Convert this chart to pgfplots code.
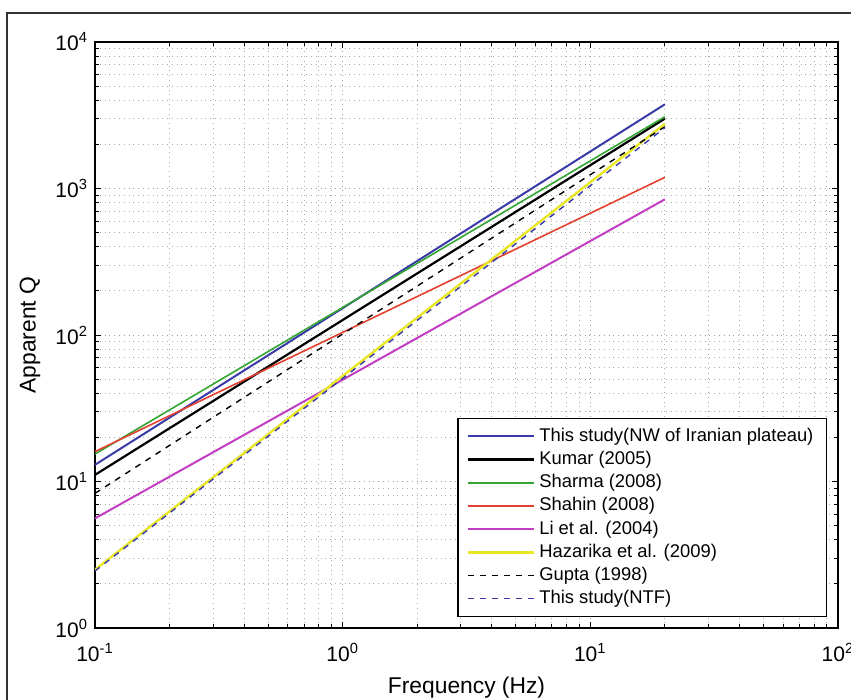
\documentclass[border=0pt]{standalone}
\usepackage{pgfplots}
\pgfplotsset{compat=1.18}
\usepackage{fontspec}
\setmainfont{Liberation Sans}
\definecolor{cBlue}{HTML}{3A3AA8}
\definecolor{cGreen}{HTML}{33A533}
\definecolor{cRed}{HTML}{E2412F}
\definecolor{cMag}{HTML}{C23DC2}
\definecolor{cYel}{HTML}{E9E626}
\definecolor{cFrame}{HTML}{333333}

\begin{document}
\begin{tikzpicture}
\draw[cFrame, line width=1.1pt] (3.5pt,-350pt) -- (3.5pt,-6.5pt) -- (425.5pt,-6.5pt);
\begin{axis}[
  at={(47.5pt,-314pt)}, anchor=south west,
  scale only axis, width=371.5pt, height=293pt,
  xmode=log, ymode=log,
  xmin=0.1, xmax=100, ymin=1, ymax=10000,
  xtick={0.1,1,10,100},
  xticklabels={10\textsuperscript{-1},10\textsuperscript{0},10\textsuperscript{1},10\textsuperscript{2}},
  ytick={1,10,100,1000,10000},
  yticklabels={10\textsuperscript{0},10\textsuperscript{1},10\textsuperscript{2},10\textsuperscript{3},10\textsuperscript{4}},
  ticklabel style={font=\fontsize{10.5}{12}\selectfont},
  xticklabel style={yshift=-4pt},
  grid=both,
  major grid style={gray!75, dotted, line width=0.5pt},
  minor grid style={gray!65, dotted, line width=0.5pt},
  tick align=inside, xtick pos=both, ytick pos=both,
  major tick length=3pt, minor tick length=1.8pt,
  axis line style={black, line width=0.8pt},
  tick style={black, line width=0.5pt},
  xlabel={Frequency (Hz)}, ylabel={Apparent Q},
  label style={font=\fontsize{11.4}{13}\selectfont},
  xlabel style={at={(axis description cs:0.5,-0.1024)}, anchor=center},
  ylabel style={at={(axis description cs:-0.0875,0.5)}, anchor=center},
  legend cell align=left,
  legend image code/.code={\draw[#1] (0pt,0pt) -- (33pt,0pt);},
  legend style={at={(rel axis cs:0.9852,0.0188)}, anchor=south east,
    font=\fontsize{9.2}{11.6}\selectfont, draw=black, line width=0.6pt,
    inner xsep=4.5pt, inner ysep=3pt,
    nodes={inner xsep=2pt, inner ysep=0.8pt, text height=7.5pt, text depth=2.5pt},
    /tikz/every even column/.append style={column sep=0pt}},
]
\addplot[cBlue, line width=1pt] coordinates {(0.1,13.0) (20,3756)};
\addlegendentry{This study(NW of Iranian plateau)}
\addplot[black, line width=1.1pt] coordinates {(0.1,11.1) (20,3000)};
\addlegendentry{Kumar (2005)}
\addplot[cGreen, line width=0.8pt] coordinates {(0.1,15.4) (20,3090)};
\addlegendentry{Sharma (2008)}
\addplot[cRed, line width=0.8pt] coordinates {(0.1,16.0) (20,1192)};
\addlegendentry{Shahin (2008)}
\addplot[cMag, line width=1pt] coordinates {(0.1,5.6) (20,844)};
\addlegendentry{Li et al. (2004)}
\addplot[cYel, line width=1.2pt] coordinates {(0.1,2.5) (20,2760)};
\addlegendentry{Hazarika et al. (2009)}
\addplot[black, dashed, line width=0.7pt] coordinates {(0.1,8.3) (20,2640)};
\addlegendentry{Gupta (1998)}
\addplot[cBlue, dashed, line width=0.7pt] coordinates {(0.1,2.45) (20,2600)};
\addlegendentry{This study(NTF)}
\end{axis}
% page size: 851 x 700 px at 0.5pt per px
\pgfresetboundingbox
\path[use as bounding box] (0,0) rectangle (425.5pt,-350pt);
\end{tikzpicture}
\end{document}
